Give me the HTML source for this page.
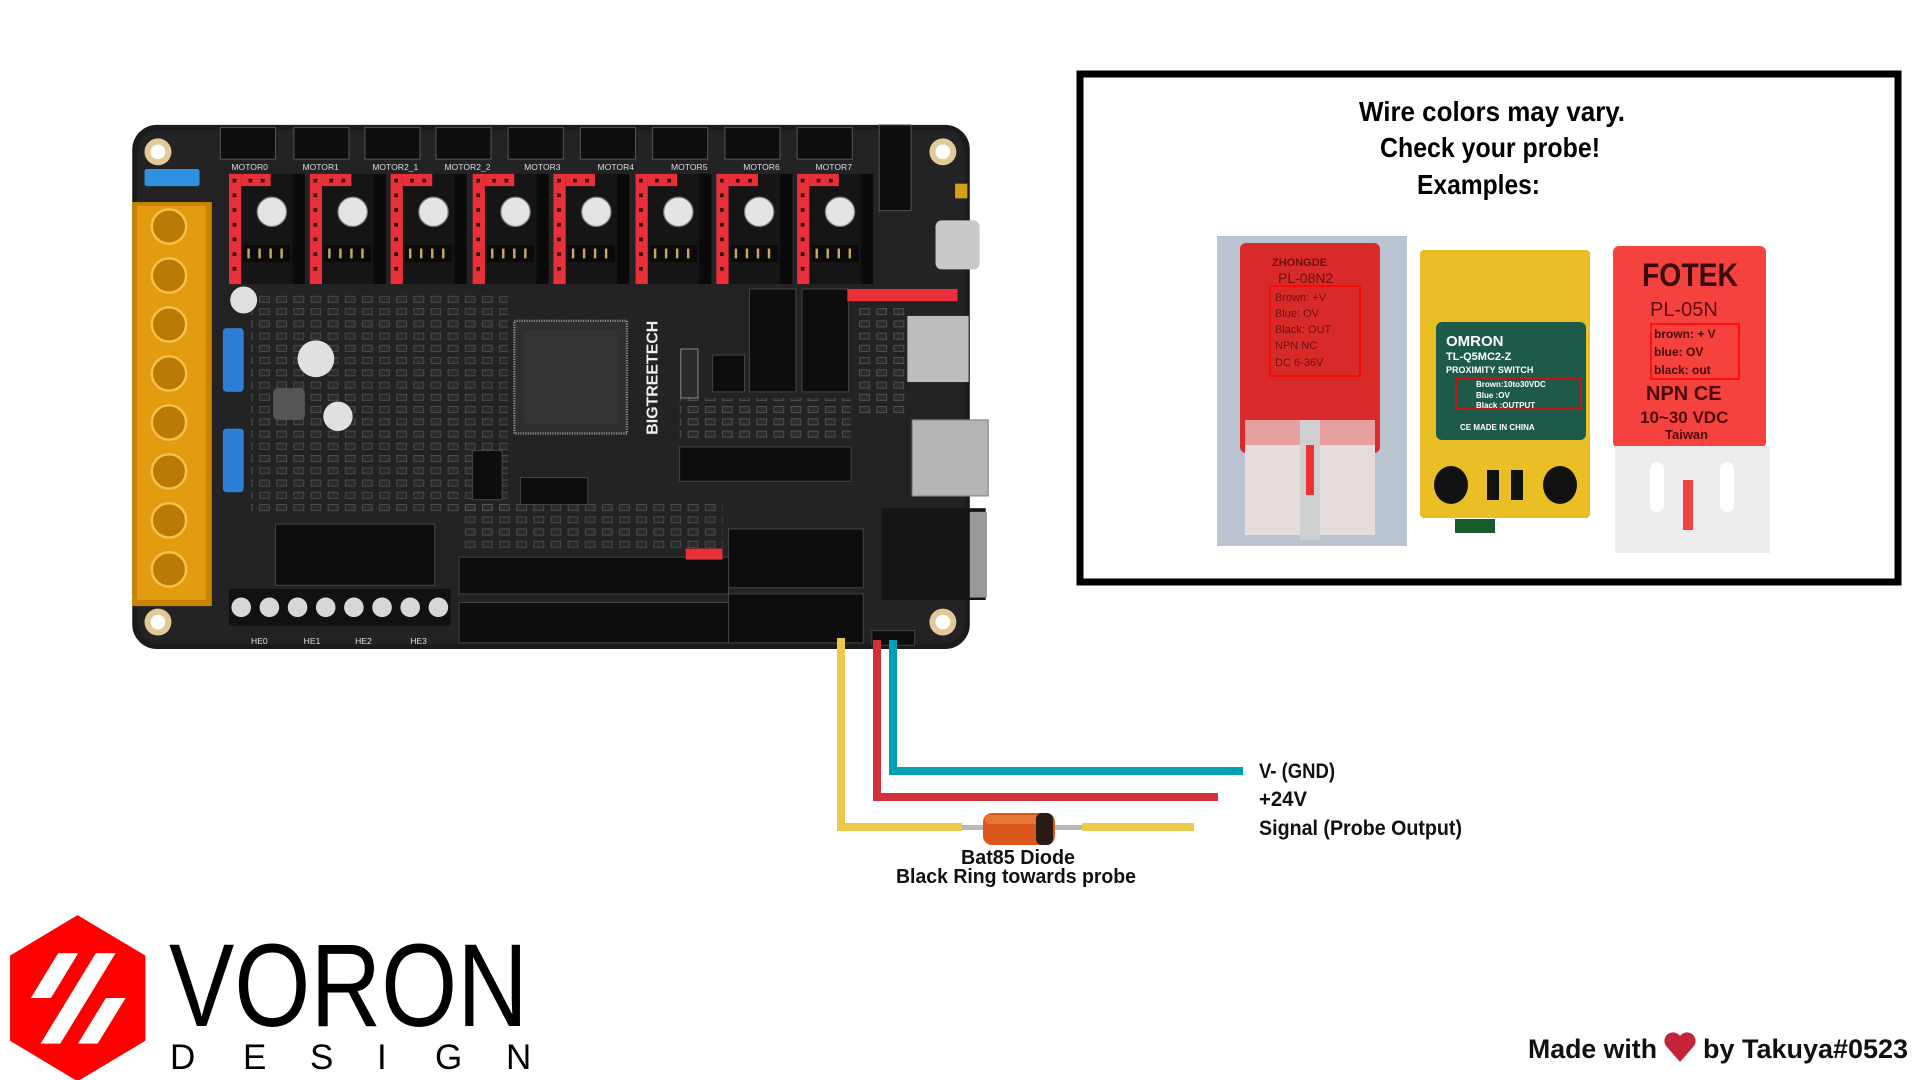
<!DOCTYPE html>
<html><head><meta charset="utf-8"><style>
html,body{margin:0;padding:0;background:#fff;width:1920px;height:1080px;overflow:hidden}
svg{display:block}
text{font-family:"Liberation Sans",sans-serif}
</style></head><body>
<svg width="1920" height="1080" viewBox="0 0 1920 1080" xmlns="http://www.w3.org/2000/svg">
<defs>
<pattern id="smd" width="14" height="10" patternUnits="userSpaceOnUse">
  <rect width="14" height="10" fill="#232325"/>
  <rect x="2" y="2" width="8" height="5" fill="#303032" stroke="#777" stroke-width=".5"/>
</pattern>
</defs>
<rect width="1920" height="1080" fill="#fff"/>

<g transform="scale(1.2245)">
  <rect x="108" y="102" width="684" height="428" rx="20" fill="#1b1b1c"/>
  <rect x="112" y="106" width="676" height="420" rx="18" fill="#232325"/>
  <rect x="205" y="238" width="210" height="180" fill="url(#smd)" opacity=".7"/>
  <rect x="555" y="325" width="140" height="35" fill="url(#smd)" opacity=".8"/>
  <rect x="375" y="410" width="215" height="40" fill="url(#smd)" opacity=".7"/>
  <rect x="700" y="250" width="40" height="90" fill="url(#smd)" opacity=".8"/>
  <g fill="#e3c99a"><circle cx="129" cy="124" r="11"/><circle cx="770" cy="124" r="11"/><circle cx="129" cy="508" r="11"/><circle cx="770" cy="508" r="11"/></g>
  <g fill="#fff"><circle cx="129" cy="124" r="6"/><circle cx="770" cy="124" r="6"/><circle cx="129" cy="508" r="6"/><circle cx="770" cy="508" r="6"/></g>
  <g fill="#0e0e0e" stroke="#555" stroke-width="0.8">
    <rect x="180" y="104" width="45" height="26"/><rect x="240" y="104" width="45" height="26"/><rect x="298" y="104" width="45" height="26"/><rect x="356" y="104" width="45" height="26"/><rect x="415" y="104" width="45" height="26"/><rect x="474" y="104" width="45" height="26"/><rect x="533" y="104" width="45" height="26"/><rect x="592" y="104" width="45" height="26"/><rect x="651" y="104" width="45" height="26"/>
    <rect x="718" y="102" width="26" height="70"/>
  </g>
  <g fill="#ddd" font-size="7" font-family="Liberation Mono,monospace">
    <text x="189" y="139">MOTOR0</text><text x="247" y="139">MOTOR1</text><text x="304" y="139">MOTOR2_1</text><text x="363" y="139">MOTOR2_2</text><text x="428" y="139">MOTOR3</text><text x="488" y="139">MOTOR4</text><text x="548" y="139">MOTOR5</text><text x="607" y="139">MOTOR6</text><text x="666" y="139">MOTOR7</text>
  </g>
  <g id="drv">
    <rect x="187" y="142" width="52" height="90" fill="#151515"/>
    <rect x="239" y="142" width="10" height="90" fill="#0a0a0a"/>
    <rect x="187" y="142" width="10" height="90" fill="#e8303a"/>
    <rect x="197" y="142" width="24" height="10" fill="#e8303a"/>
    <g fill="#300"><rect x="190" y="146" width="3" height="3"/><rect x="190" y="158" width="3" height="3"/><rect x="190" y="170" width="3" height="3"/><rect x="190" y="182" width="3" height="3"/><rect x="190" y="194" width="3" height="3"/><rect x="190" y="206" width="3" height="3"/><rect x="190" y="218" width="3" height="3"/><rect x="203" y="146" width="3" height="3"/><rect x="213" y="146" width="3" height="3"/></g>
    <circle cx="222" cy="173" r="12" fill="#e4e4e4"/>
    <circle cx="222" cy="173" r="12" fill="none" stroke="#777" stroke-width="1"/>
    <rect x="199" y="200" width="38" height="14" fill="#0a0a0a"/>
    <g fill="#c8a85a"><rect x="202" y="203" width="2" height="8"/><rect x="211" y="203" width="2" height="8"/><rect x="220" y="203" width="2" height="8"/><rect x="229" y="203" width="2" height="8"/></g>
  </g>
  <use href="#drv" x="66"/><use href="#drv" x="132"/><use href="#drv" x="199"/><use href="#drv" x="265"/><use href="#drv" x="332"/><use href="#drv" x="398"/><use href="#drv" x="464"/>
  <rect x="118" y="138" width="45" height="14" rx="2" fill="#2f8fe0"/>
  <rect x="182" y="268" width="17" height="52" rx="3" fill="#2d7fd6"/>
  <rect x="182" y="350" width="17" height="52" rx="3" fill="#2d7fd6"/>
  <rect x="108" y="165" width="65" height="330" fill="#c88400"/>
  <rect x="112" y="168" width="56" height="322" fill="#e39c10"/>
  <g fill="#b97a06" stroke="#f7c24b" stroke-width="2">
    <circle cx="138" cy="185" r="14"/><circle cx="138" cy="225" r="14"/><circle cx="138" cy="265" r="14"/><circle cx="138" cy="305" r="14"/><circle cx="138" cy="345" r="14"/><circle cx="138" cy="385" r="14"/><circle cx="138" cy="425" r="14"/><circle cx="138" cy="465" r="14"/>
  </g>
  <g fill="#e0e0e0"><circle cx="199" cy="245" r="11"/><circle cx="258" cy="293" r="15"/><circle cx="276" cy="340" r="12"/></g>
  <rect x="223" y="317" width="26" height="26" rx="4" fill="#555"/>
  <rect x="420" y="262" width="92" height="92" fill="#2e2e30" stroke="#888" stroke-width="2" stroke-dasharray="1 1"/>
  <rect x="428" y="270" width="76" height="76" fill="#333336"/>
  <text x="537" y="355" fill="#eee" font-size="13" font-weight="bold" transform="rotate(-90 537 355)">BIGTREETECH</text>
  <rect x="556" y="285" width="14" height="40" fill="#2a2a2a" stroke="#aaa" stroke-width=".6"/>
  <g fill="#0d0d0d" stroke="#444" stroke-width=".8">
    <rect x="612" y="236" width="38" height="84"/><rect x="655" y="236" width="38" height="84"/><rect x="582" y="290" width="26" height="30"/>
    <rect x="555" y="365" width="140" height="28"/>
    <rect x="386" y="368" width="24" height="40"/><rect x="425" y="390" width="55" height="22"/>
    <rect x="595" y="432" width="110" height="48"/><rect x="595" y="485" width="110" height="40"/>
    <rect x="375" y="455" width="220" height="30"/><rect x="375" y="492" width="220" height="33"/>
    <rect x="225" y="428" width="130" height="50"/>
    <rect x="712" y="515" width="35" height="12"/>
  </g>
  <rect x="692" y="236" width="90" height="10" fill="#e8303a"/>
  <rect x="560" y="448" width="30" height="9" fill="#e8303a"/>
  <rect x="187" y="481" width="181" height="30" fill="#111"/>
  <g fill="#d7d7d7"><circle cx="197" cy="496" r="8"/><circle cx="220" cy="496" r="8"/><circle cx="243" cy="496" r="8"/><circle cx="266" cy="496" r="8"/><circle cx="289" cy="496" r="8"/><circle cx="312" cy="496" r="8"/><circle cx="335" cy="496" r="8"/><circle cx="358" cy="496" r="8"/></g>
  <g fill="#ddd" font-size="7" font-family="Liberation Mono,monospace"><text x="205" y="526">HE0</text><text x="248" y="526">HE1</text><text x="290" y="526">HE2</text><text x="335" y="526">HE3</text></g>
  <rect x="764" y="180" width="36" height="40" rx="5" fill="#c9c9c9"/>
  <rect x="741" y="258" width="50" height="54" fill="#bdbdbd"/>
  <rect x="745" y="343" width="62" height="62" fill="#b5b5b5" stroke="#888"/>
  <rect x="720" y="415" width="85" height="75" fill="#151515"/>
  <rect x="792" y="418" width="14" height="70" fill="#999"/>
  <rect x="780" y="150" width="10" height="12" fill="#d4a017"/>
</g>

<g fill="none" stroke-width="8" stroke-linejoin="miter">
  <polyline points="841,638 841,827 962,827" stroke="#ecc94b"/>
  <polyline points="1082,827 1194,827" stroke="#ecc94b"/>
  <polyline points="877,640 877,797 1218,797" stroke="#cf313d"/>
  <polyline points="893,640 893,771 1243,771" stroke="#00a0b0"/>
</g>
<rect x="962" y="825" width="120" height="5" fill="#b8b8b8"/>
<rect x="983" y="813" width="72" height="32" rx="9" fill="#d9571a"/>
<rect x="985" y="815" width="68" height="9" rx="4" fill="#f08a4a" opacity=".6"/>
<rect x="1036" y="813" width="17" height="32" rx="6" fill="#2a1a14"/>

<g font-weight="bold" fill="#111">
  <text x="1259" y="778" font-size="21" textLength="76" lengthAdjust="spacingAndGlyphs">V- (GND)</text>
  <text x="1259" y="806" font-size="21" textLength="48" lengthAdjust="spacingAndGlyphs">+24V</text>
  <text x="1259" y="835" font-size="21" textLength="203" lengthAdjust="spacingAndGlyphs">Signal (Probe Output)</text>
  <text x="961" y="864" font-size="20" textLength="114" lengthAdjust="spacingAndGlyphs">Bat85 Diode</text>
  <text x="896" y="883" font-size="20" textLength="240" lengthAdjust="spacingAndGlyphs">Black Ring towards probe</text>
</g>

<rect x="1080" y="74" width="818" height="508" fill="#fff" stroke="#000" stroke-width="7"/>
<g font-weight="bold" fill="#000" font-size="28">
  <text x="1359" y="121" textLength="266" lengthAdjust="spacingAndGlyphs">Wire colors may vary.</text>
  <text x="1380" y="157" textLength="220" lengthAdjust="spacingAndGlyphs">Check your probe!</text>
  <text x="1417" y="194" textLength="123" lengthAdjust="spacingAndGlyphs">Examples:</text>
</g>
<rect x="1217" y="236" width="190" height="310" fill="#b9c4d0"/>
<rect x="1240" y="243" width="140" height="210" rx="6" fill="#d92a2a"/>
<rect x="1245" y="420" width="130" height="115" fill="#e5dcdc"/>
<rect x="1245" y="420" width="130" height="25" fill="#e6a0a0"/>
<rect x="1300" y="420" width="20" height="120" fill="#d0d0d0"/>
<rect x="1306" y="445" width="8" height="50" fill="#e33"/>
<rect x="1270" y="286" width="90" height="90" fill="none" stroke="#f00" stroke-width="1.5"/>
<g fill="#6d1010" font-size="11"><text x="1272" y="266" font-weight="bold">ZHONGDE</text><text x="1278" y="283" font-size="14">PL-08N2</text>
<text x="1275" y="301">Brown: +V</text><text x="1275" y="317">Blue:  OV</text><text x="1275" y="333">Black: OUT</text><text x="1275" y="349">NPN    NC</text><text x="1275" y="366">DC  6-36V</text></g>
<rect x="1420" y="250" width="170" height="268" rx="4" fill="#eabf25"/>
<rect x="1436" y="322" width="150" height="118" rx="6" fill="#1e5a4a"/>
<rect x="1455" y="519" width="40" height="14" fill="#1b5c2c"/>
<g fill="#111"><ellipse cx="1451" cy="485" rx="17" ry="19"/><ellipse cx="1560" cy="485" rx="17" ry="19"/><rect x="1487" y="470" width="12" height="30"/><rect x="1511" y="470" width="12" height="30"/></g>
<rect x="1456" y="378" width="125" height="31" fill="none" stroke="#f00" stroke-width="1.5"/>
<g fill="#fff" font-weight="bold" font-size="10"><text x="1446" y="346" font-size="15">OMRON</text><text x="1446" y="360" font-size="11">TL-Q5MC2-Z</text><text x="1446" y="373" font-size="9">PROXIMITY SWITCH</text><text x="1476" y="387" font-size="8">Brown:10to30VDC</text><text x="1476" y="398" font-size="8">Blue  :OV</text><text x="1476" y="408" font-size="8">Black :OUTPUT</text><text x="1460" y="430" font-size="8">CE MADE IN CHINA</text></g>
<rect x="1613" y="246" width="153" height="202" rx="6" fill="#f5423e"/>
<rect x="1615" y="446" width="155" height="107" fill="#ececec"/>
<rect x="1650" y="462" width="14" height="50" rx="7" fill="#fff"/>
<rect x="1720" y="462" width="14" height="50" rx="7" fill="#fff"/>
<rect x="1683" y="480" width="10" height="50" fill="#e44"/>
<rect x="1651" y="324" width="88" height="55" fill="none" stroke="#f00" stroke-width="1.5"/>
<g fill="#4a0b0b" font-weight="bold">
<text x="1642" y="286" font-size="32" textLength="96" lengthAdjust="spacingAndGlyphs" fill="#3a0a0a">FOTEK</text>
<text x="1650" y="316" font-size="20" fill="#5a1010" font-weight="normal">PL-05N</text>
<text x="1654" y="338" font-size="12">brown: + V</text><text x="1654" y="356" font-size="12">blue: OV</text><text x="1654" y="374" font-size="12">black: out</text>
<text x="1646" y="400" font-size="20">NPN  CE</text><text x="1640" y="423" font-size="17">10~30 VDC</text><text x="1665" y="439" font-size="13">Taiwan</text></g>

<g transform="translate(0,900) scale(0.359)">
  <polygon points="216,42 405,155 405,392 216,505 28,392 28,155" fill="#ff0000"/>
  <g fill="#fff">
    <polygon points="162,148 218,148 142,273 86,273"/>
    <polygon points="267,148 322,148 168,400 113,400"/>
    <polygon points="295,273 350,273 272,400 217,400"/>
  </g>
</g>
<text x="169" y="1026" font-size="118" fill="#000" textLength="359" lengthAdjust="spacingAndGlyphs">VORON</text>
<g font-size="35" fill="#000"><text x="170" y="1069">D</text><text x="243" y="1069">E</text><text x="310" y="1069">S</text><text x="377" y="1069">I</text><text x="435" y="1069">G</text><text x="506" y="1069">N</text></g>

<g font-weight="bold" fill="#111" font-size="27">
  <text x="1528" y="1058" textLength="129" lengthAdjust="spacingAndGlyphs">Made with</text>
  <text x="1703" y="1058" textLength="205" lengthAdjust="spacingAndGlyphs">by Takuya#0523</text>
</g>
<path d="M1680 1062 L1666 1046 A8 8 0 0 1 1680 1036 A8 8 0 0 1 1694 1046 Z" fill="#c4233a"/>
</svg>
</body></html>
